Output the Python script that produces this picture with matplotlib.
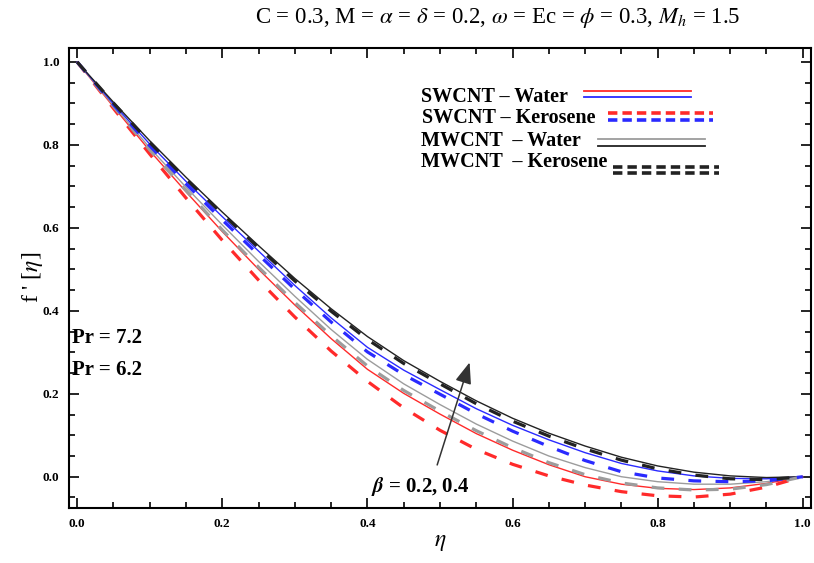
"""Velocity profile f'(eta) for SWCNT / MWCNT nanofluids"""
import matplotlib
matplotlib.use('Agg')
import matplotlib.pyplot as plt
from matplotlib.ticker import MultipleLocator

plt.rcParams['font.family'] = ['Liberation Serif', 'DejaVu Serif']
plt.rcParams['mathtext.fontset'] = 'stix'

ETA = [0.0, 0.05, 0.1, 0.15, 0.2, 0.25, 0.3, 0.35, 0.4, 0.45, 0.5,
       0.55, 0.6, 0.65, 0.7, 0.75, 0.8, 0.85, 0.9, 0.95, 1.0]

# SWCNT - Water (beta = 0.2 red, beta = 0.4 blue)
SW_WATER_B02 = [1.000, 0.892, 0.786, 0.687, 0.591, 0.500, 0.414, 0.333, 0.259, 0.201, 0.151,
                0.104, 0.064, 0.029, 0.000, -0.018, -0.028, -0.031, -0.027, -0.016, 0.000]
SW_WATER_B04 = [1.000, 0.899, 0.802, 0.712, 0.627, 0.544, 0.461, 0.383, 0.312, 0.257, 0.210,
                0.164, 0.124, 0.089, 0.058, 0.032, 0.014, 0.002, -0.004, -0.005, 0.000]
# SWCNT - Kerosene
SW_KERO_B02 = [1.000, 0.888, 0.778, 0.672, 0.570, 0.474, 0.385, 0.303, 0.230, 0.166, 0.112,
               0.066, 0.030, 0.002, -0.020, -0.036, -0.046, -0.049, -0.042, -0.025, 0.000]
SW_KERO_B04 = [1.000, 0.897, 0.798, 0.706, 0.619, 0.535, 0.452, 0.373, 0.301, 0.246, 0.199,
               0.152, 0.110, 0.073, 0.039, 0.012, -0.003, -0.010, -0.012, -0.010, 0.000]
# MWCNT - Water (beta = 0.2 gray, beta = 0.4 black)
MW_WATER_B02 = [1.000, 0.895, 0.793, 0.698, 0.607, 0.519, 0.435, 0.355, 0.283, 0.224, 0.174,
                0.127, 0.086, 0.050, 0.022, 0.000, -0.012, -0.018, -0.018, -0.012, 0.000]
MW_WATER_B04 = [1.000, 0.903, 0.810, 0.722, 0.638, 0.557, 0.478, 0.405, 0.338, 0.280, 0.230,
                0.183, 0.141, 0.105, 0.074, 0.047, 0.026, 0.011, 0.002, -0.002, 0.000]
# MWCNT - Kerosene
MW_KERO_B02 = [1.000, 0.893, 0.788, 0.690, 0.595, 0.505, 0.420, 0.340, 0.267, 0.208, 0.158,
               0.111, 0.070, 0.034, 0.005, -0.015, -0.027, -0.032, -0.030, -0.019, 0.000]
MW_KERO_B04 = [1.000, 0.901, 0.806, 0.718, 0.634, 0.552, 0.472, 0.399, 0.331, 0.273, 0.224,
               0.176, 0.134, 0.098, 0.067, 0.040, 0.019, 0.004, -0.005, -0.007, 0.000]

RED = '#ff2a2a'
BLUE = '#2a2aff'
GRAY = '#9c9c9c'
BLACK = '#222222'
DASH = (4.0, 4.5)
DLW = 2.3

fig = plt.figure(figsize=(8.14, 5.63), dpi=100)
ax = fig.add_axes([0.085, 0.098, 0.911, 0.817])

ax.plot(ETA, SW_WATER_B02, color=RED, lw=1.0)
ax.plot(ETA, MW_WATER_B02, color=GRAY, lw=1.0)
ax.plot(ETA, SW_WATER_B04, color=BLUE, lw=1.0)
ax.plot(ETA, MW_WATER_B04, color=BLACK, lw=1.0)
ax.plot(ETA, SW_KERO_B02, color=RED, lw=DLW, dashes=DASH)
ax.plot(ETA, MW_KERO_B02, color=GRAY, lw=DLW, dashes=DASH)
ax.plot(ETA, SW_KERO_B04, color=BLUE, lw=DLW, dashes=DASH)
ax.plot(ETA, MW_KERO_B04, color=BLACK, lw=DLW, dashes=DASH)

ax.set_xlim(-0.011, 1.011)
ax.set_ylim(-0.075, 1.034)
ax.xaxis.set_major_locator(MultipleLocator(0.2))
ax.xaxis.set_minor_locator(MultipleLocator(0.05))
ax.yaxis.set_major_locator(MultipleLocator(0.2))
ax.yaxis.set_minor_locator(MultipleLocator(0.05))
ax.tick_params(which='both', direction='in', top=True, right=True, width=1.2)
ax.tick_params(which='major', length=7, labelsize=9.5, pad=7)
ax.tick_params(which='minor', length=4)
for lab in ax.get_xticklabels() + ax.get_yticklabels():
    lab.set_fontweight('bold')
for s in ax.spines.values():
    s.set_linewidth(1.5)

fig.text(0.611, 0.968,
         r'C = 0.3, M = $\alpha$ = $\delta$ = 0.2, $\omega$ = Ec = $\phi$ = 0.3, $M_h$ = 1.5',
         fontsize=16.5, ha='center', va='center')
ax.set_xlabel(r'$\eta$', fontsize=17, labelpad=2)
ax.set_ylabel(r"f ' [$\eta$]", fontsize=17, labelpad=-2)

# legend, drawn by hand like the original
leg_rows = [('SWCNT \u2013 Water', 0.474, 0.893, 0.694, 0.838, 0.907, 0.893, RED, BLUE, None),
            ('SWCNT \u2013 Kerosene', 0.476, 0.848, 0.726, 0.868, 0.859, 0.843, RED, BLUE, (2.6, 1.4)),
            ('MWCNT  \u2013 Water', 0.474, 0.798, 0.713, 0.858, 0.802, 0.787, GRAY, BLACK, None),
            ('MWCNT  \u2013 Kerosene', 0.474, 0.752, 0.734, 0.876, 0.741, 0.728, BLACK, BLACK, (2.6, 1.4))]
for txt, tx, ty, x0, x1, y_a, y_b, c_a, c_b, dsh in leg_rows:
    ax.text(tx, ty, txt, transform=ax.transAxes, fontsize=14.5, fontweight='bold',
            va='center', ha='left')
    for yy, cc in ((y_a, c_a), (y_b, c_b)):
        if dsh is None:
            ax.plot([x0, x1], [yy, yy], color=cc, lw=1.3, transform=ax.transAxes)
        else:
            ax.plot([x0, x1], [yy, yy], color=cc, lw=2.6, dashes=dsh, transform=ax.transAxes)

ax.text(-0.007, 0.335, 'Pr = 7.2', fontsize=15, fontweight='bold', va='center', ha='left')
ax.text(-0.007, 0.258, 'Pr = 6.2', fontsize=15, fontweight='bold', va='center', ha='left')
ax.annotate('', xy=(0.542, 0.282), xytext=(0.495, 0.022),
            arrowprops=dict(arrowstyle='-|>,head_length=1.3,head_width=0.5',
                            color='#333333', lw=1.1))
ax.text(0.473, -0.024, r'$\boldsymbol{\beta}$ = 0.2, 0.4', fontsize=15, fontweight='bold',
        va='center', ha='center')

plt.savefig('out.png', dpi=100)
